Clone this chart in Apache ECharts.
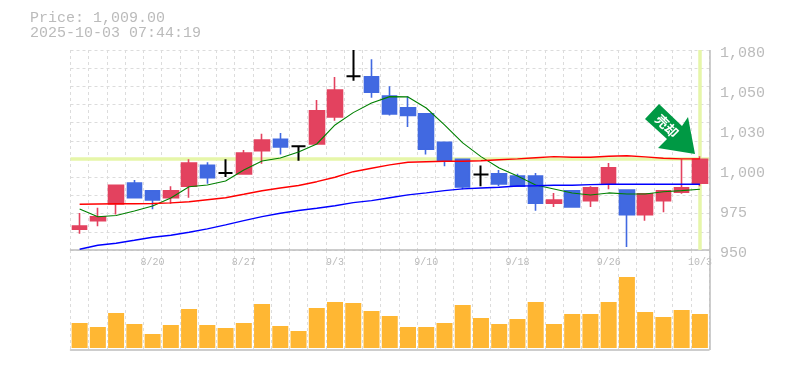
<!DOCTYPE html>
<html><head><meta charset="utf-8">
<style>html,body{margin:0;padding:0;background:#fff}#c{width:785px;height:370px}</style>
<script src="https://cdn.jsdelivr.net/npm/echarts@6/dist/echarts.min.js"></script>
</head><body><div id="c"></div>
<script>
const categories=['8/14','8/15','8/18','8/19','8/20','8/21','8/22','8/25','8/26','8/27','8/28','8/29','9/1','9/2','9/3','9/4','9/5','9/8','9/9','9/10','9/11','9/12','9/16','9/17','9/18','9/19','9/22','9/24','9/25','9/26','9/29','9/30','10/1','10/2','10/3'];
const shownDates=['8/20','8/27','9/3','9/10','9/18','9/26','10/3'];
const priceTicks=['1,080','1,050','1,030','1,000','975','950'];
const opens=[963.5,969,980,993.5,988.5,984,991.5,1005,1000,999.5,1014.5,1022,1017.5,1019,1036.5,1063,1062.5,1050,1042.5,1038.5,1020,1009,999,999.5,998,998,980.5,988.5,982,993.5,989,973,982,987.5,993.5];
const closes=[965.5,971.5,992,984,982.5,988.5,1006.5,997,1000,1013,1021.5,1017,1017.5,1040.5,1054,1063,1052.5,1038.5,1037.5,1015.5,1008,991,999,993,991.5,980.5,982.5,978,990.5,1003.5,973,986.5,988.5,990.5,1009];
const lows=[960.5,965.5,973,984,976.5,980,984,993,997.5,999.5,1006,1012,1008,1019,1034,1060,1049,1037.5,1030,1012,1004.5,989.5,991.5,991.5,991,975.5,978,978,978,989.5,952,969,974.5,986.5,991.5];
const highs=[974,977.5,992,995.5,988.5,991.5,1009,1007,1009,1015,1025.5,1026,1018,1047.5,1062.5,1080,1074,1056.5,1050,1038.5,1020,1009,1005,1002,999.5,1000,987,988.5,991.5,1006.5,989,987,989,1009,1011];
const maShort=[976.6,971.6,972.4,975.4,978.6,983.8,991.1,992.3,994.9,1002,1007.9,1009.8,1013.7,1018.9,1031.3,1039.3,1045.6,1049.7,1049.5,1042.3,1031.3,1019.6,1010.7,1003.3,998.1,992.3,989.7,987.1,985.8,987.1,986.4,986.4,987.9,988.6,989.5];
const maMid=[979.7,979.9,980.1,980.1,980.2,980.6,981.4,982.7,984,986.2,988.5,990.3,991.9,994.4,997.3,1000.9,1003.1,1005.3,1007,1007.4,1007.7,1007.7,1008,1008.7,1009.2,1010,1010.7,1010.3,1010.3,1010.9,1011.3,1010.5,1009.6,1009.2,1009.2];
const maLong=[950.5,953.1,954.4,956.3,958.3,959.6,961.5,963.7,966.3,969.1,971.7,973.9,975.7,977.1,978.8,980.8,982.1,984,985.8,987.1,988.6,989.7,990.3,990.8,991.6,991.8,992.1,992.1,992.5,992.7,992.7,992.7,992.7,992.7,992.7];
const volumes=[25,21,35,24,14,23,39,23,20,25,44,22,17,40,46,45,37,32,21,21,25,43,30,24,29,46,24,34,34,46,71,36,31,38,34];
const lastPrice=1009;
const priceTitle='Price: 1,009.00';
const timeTitle='2025-10-03 07:44:19';
const signalText='売却';

const GRID='#dcdcdc',AXIS='#bdbdbd',TXT='#bbbbbb',MONO='"Liberation Mono",monospace';
const UP='#e3425f',DOWN='#4169e1',DOJI='#000000';
const candles=categories.map((c,i)=>{
  const doji=opens[i]===closes[i];
  const col=doji?DOJI:(closes[i]>opens[i]?UP:DOWN);
  return {value:[opens[i],closes[i],lows[i],highs[i]],itemStyle:{color:col,color0:col,borderColor:col,borderColor0:col,borderColorDoji:col,borderWidth:doji?2:1.6}};
});
const vSplit={show:true,interval:0,lineStyle:{color:GRID,type:[3,3],width:1}};
const chart=echarts.init(document.getElementById('c'),null,{renderer:'canvas'});
const lineS=(name,data,color,w)=>({name,type:'line',data,xAxisIndex:0,yAxisIndex:0,symbol:'none',z:3,silent:true,
  lineStyle:{color,width:w},itemStyle:{color},animation:false});
chart.setOption({
  animation:false,backgroundColor:'#fff',
  grid:[{left:70.5,top:50,width:638.5,height:200,containLabel:false},{left:70.5,top:250,width:638.5,height:100}],
  xAxis:[
    {type:'category',gridIndex:0,data:categories,boundaryGap:true,
     axisLine:{show:true,onZero:false,lineStyle:{color:AXIS,width:1.5}},axisTick:{show:false},
     axisLabel:{show:true,interval:0,margin:7,hideOverlap:false,color:TXT,fontFamily:MONO,fontSize:10,
       formatter:v=>shownDates.includes(v)?v:''},splitLine:vSplit},
    {type:'category',gridIndex:1,data:categories,boundaryGap:true,
     axisLine:{show:true,onZero:false,lineStyle:{color:AXIS,width:1.5}},axisTick:{show:false},axisLabel:{show:false},splitLine:vSplit}
  ],
  yAxis:[
    {type:'value',gridIndex:0,min:950,max:1080,interval:130/11,scale:true,
     axisLine:{show:false},axisTick:{show:false},axisLabel:{show:false},
     splitLine:{show:true,lineStyle:{color:GRID,type:[3,3],width:1}}},
    {type:'value',gridIndex:1,min:-2,max:98,axisLine:{show:false},axisTick:{show:false},axisLabel:{show:false},splitLine:{show:false}}
  ],
  series:[
    {name:'ref',type:'line',data:[],xAxisIndex:0,yAxisIndex:0,z:1,silent:true,
     markLine:{silent:true,symbol:'none',label:{show:false},animation:false,z:1,
       lineStyle:{color:'#e6f6a9',width:3.5,type:'solid'},
       data:[{yAxis:lastPrice},{xAxis:categories[categories.length-1]}]}},
    {name:'price',type:'candlestick',data:candles,xAxisIndex:0,yAxisIndex:0,barWidth:15,z:2,silent:true},
    lineS('short',maShort,'#008000',1.1),
    lineS('mid',maMid,'#ff0000',1.4),
    lineS('long',maLong,'#0000ff',1.4),
    {name:'volume',type:'bar',data:volumes,xAxisIndex:1,yAxisIndex:1,barWidth:16,itemStyle:{color:'#ffb733'},silent:true}
  ],
  graphic:[
    {type:'text',left:30,top:11,style:{text:priceTitle,fill:TXT,font:'15px '+MONO}},
    {type:'text',left:30,top:26,style:{text:timeTitle,fill:TXT,font:'15px '+MONO}},
    ...priceTicks.map((t,i)=>({type:'text',left:720,top:45.5+40*i,style:{text:t,fill:TXT,font:'15px '+MONO}})),
    {type:'line',shape:{x1:710,y1:50,x2:710,y2:350},style:{stroke:AXIS,lineWidth:1.5},z:5},
    {type:'polygon',shape:{points:[[645,119],[659,104],[682,126],[688,117],[695,154],[658,148],[667,139]]},style:{fill:'#009944'},z:20},
    {type:'text',x:667,y:126,rotation:-Math.PI/4,style:{text:signalText,fill:'#fff',font:'bold 13px "Noto Sans CJK JP"',align:'center',verticalAlign:'middle'},z:21}
  ]
});
</script></body></html>
